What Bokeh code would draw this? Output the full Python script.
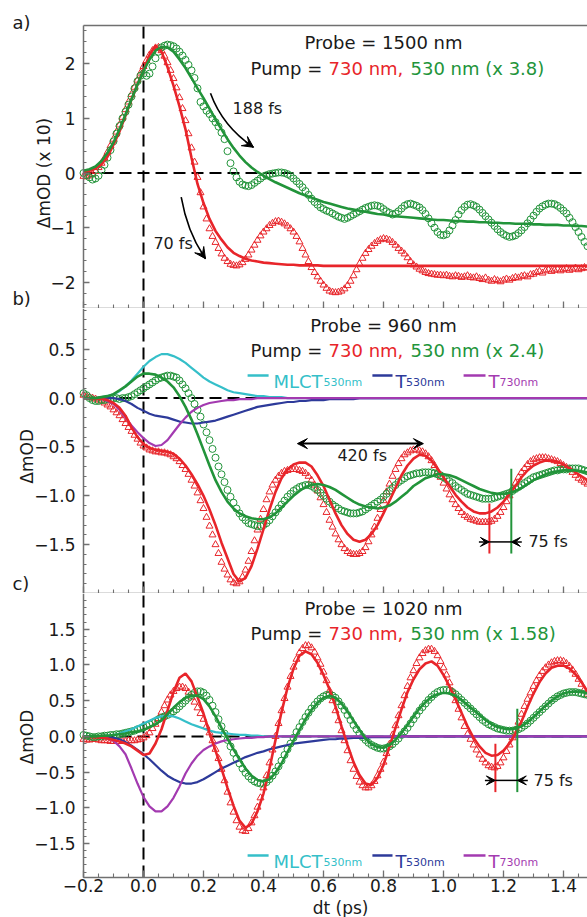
import math
from bokeh.plotting import figure
from bokeh.layouts import column
from bokeh.models import Range1d, FixedTicker, CustomJSTickFormatter, Label, Arrow, VeeHead
from bokeh.embed import file_html
from bokeh.resources import INLINE

# ---------------- data ----------------
T_DATA = [round(-0.2 + 0.01 * i, 2) for i in range(169)]
T_FIT = [round(-0.2 + 0.02 * i, 2) for i in range(85)]

# Panel a (probe 1500 nm)
RED_FIT_A = [0.02, 0.04, 0.08, 0.16, 0.30, 0.52, 0.76, 1.05, 1.35, 1.62,
             1.88, 2.16, 2.33, 2.22, 1.94, 1.60, 1.22, 0.80, 0.28, -0.20,
             -0.55, -0.84, -1.06, -1.22, -1.36, -1.46, -1.52, -1.57, -1.60, -1.62,
             -1.64, -1.65, -1.66, -1.67, -1.68, -1.68, -1.69, -1.69, -1.69, -1.69,
             -1.70, -1.70, -1.70, -1.70, -1.70, -1.70, -1.70, -1.70, -1.70, -1.70,
             -1.70, -1.70, -1.70, -1.70, -1.70, -1.70, -1.70, -1.70, -1.70, -1.70,
             -1.70, -1.70, -1.70, -1.70, -1.70, -1.70, -1.70, -1.70, -1.70, -1.70,
             -1.70, -1.70, -1.70, -1.70, -1.70, -1.70, -1.70, -1.70, -1.70, -1.70,
             -1.70, -1.70, -1.70, -1.70, -1.70]
GREEN_FIT_A = [0.04, 0.07, 0.12, 0.22, 0.37, 0.56, 0.80, 1.07, 1.35, 1.62,
               1.87, 2.08, 2.24, 2.31, 2.30, 2.22, 2.08, 1.92, 1.74, 1.55,
               1.37, 1.18, 0.98, 0.80, 0.62, 0.46, 0.32, 0.20, 0.10, 0.02,
               -0.05, -0.11, -0.17, -0.22, -0.27, -0.32, -0.37, -0.41, -0.45, -0.49,
               -0.53, -0.56, -0.59, -0.62, -0.65, -0.67, -0.69, -0.71, -0.73, -0.75,
               -0.76, -0.78, -0.79, -0.80, -0.81, -0.82, -0.83, -0.84, -0.85, -0.86,
               -0.86, -0.87, -0.88, -0.88, -0.89, -0.89, -0.90, -0.90, -0.91, -0.91,
               -0.92, -0.92, -0.93, -0.93, -0.93, -0.94, -0.94, -0.95, -0.95, -0.95,
               -0.96, -0.96, -0.97, -0.97, -0.98]
GREEN_DAT_A = [0.00, -0.04, -0.08, -0.12, -0.10, -0.05, 0.05, 0.15, 0.28, 0.42,
               0.58, 0.72, 0.86, 1.00, 1.12, 1.25, 1.40, 1.55, 1.68, 1.78,
               1.82, 1.78, 1.82, 1.95, 2.10, 2.22, 2.30, 2.33, 2.35, 2.34,
               2.32, 2.28, 2.22, 2.15, 2.07, 1.98, 1.88, 1.74, 1.55, 1.30,
               1.22, 1.14, 1.08, 1.00, 0.93, 0.85, 0.74, 0.62, 0.40, 0.18,
               0.03, -0.08, -0.16, -0.21, -0.23, -0.24, -0.22, -0.18, -0.14, -0.10,
               -0.06, -0.04, -0.02, -0.01, 0.00, 0.01, 0.01, 0.00, -0.02, -0.05,
               -0.10, -0.15, -0.20, -0.26, -0.33, -0.40, -0.47, -0.53, -0.58, -0.63,
               -0.66, -0.69, -0.71, -0.74, -0.77, -0.80, -0.82, -0.84, -0.82, -0.79,
               -0.76, -0.73, -0.70, -0.67, -0.64, -0.62, -0.60, -0.59, -0.60, -0.62,
               -0.66, -0.70, -0.73, -0.76, -0.74, -0.70, -0.65, -0.60, -0.57, -0.56,
               -0.58, -0.60, -0.63, -0.68, -0.75, -0.83, -0.92, -1.00, -1.08, -1.13,
               -1.14, -1.12, -1.05, -0.96, -0.86, -0.76, -0.68, -0.62, -0.58, -0.57,
               -0.59, -0.62, -0.67, -0.73, -0.79, -0.85, -0.91, -0.97, -1.03, -1.08,
               -1.12, -1.15, -1.17, -1.16, -1.14, -1.10, -1.05, -0.99, -0.92, -0.85,
               -0.78, -0.71, -0.65, -0.61, -0.58, -0.56, -0.56, -0.57, -0.60, -0.64,
               -0.69, -0.74, -0.82, -0.90, -0.99, -1.08, -1.17, -1.26, -1.34]
RED_DAT_A = [-0.06, -0.07, -0.05, -0.02, 0.03, 0.10, 0.18, 0.27, 0.38, 0.50,
             0.62, 0.75, 0.88, 1.02, 1.16, 1.30, 1.44, 1.57, 1.70, 1.83,
             1.95, 2.06, 2.16, 2.24, 2.29, 2.30, 2.24, 2.14, 2.02, 1.88,
             1.73, 1.56, 1.38, 1.18, 0.96, 0.72, 0.46, 0.20, -0.08, -0.36,
             -0.62, -0.84, -1.02, -1.16, -1.27, -1.38, -1.48, -1.56, -1.62, -1.67,
             -1.69, -1.70, -1.68, -1.64, -1.58, -1.50, -1.41, -1.32, -1.23, -1.15,
             -1.08, -1.02, -0.96, -0.92, -0.89, -0.88, -0.90, -0.93, -0.97, -1.02,
             -1.08, -1.16, -1.26, -1.38, -1.50, -1.62, -1.73, -1.82, -1.90, -1.98,
             -2.05, -2.11, -2.16, -2.18, -2.19, -2.18, -2.16, -2.12, -2.06, -1.98,
             -1.88, -1.77, -1.66, -1.56, -1.47, -1.40, -1.34, -1.29, -1.25, -1.22,
             -1.20, -1.21, -1.23, -1.27, -1.32, -1.38, -1.43, -1.48, -1.55, -1.62,
             -1.68, -1.72, -1.76, -1.79, -1.82, -1.84, -1.85, -1.86, -1.87, -1.87,
             -1.88, -1.87, -1.89, -1.90, -1.88, -1.89, -1.91, -1.90, -1.88, -1.91,
             -1.92, -1.90, -1.93, -1.95, -1.92, -1.96, -1.98, -1.95, -1.97, -1.99,
             -1.96, -1.94, -1.96, -1.93, -1.91, -1.92, -1.89, -1.88, -1.90, -1.86,
             -1.85, -1.82, -1.80, -1.83, -1.79, -1.77, -1.80, -1.78, -1.76, -1.79,
             -1.77, -1.75, -1.78, -1.76, -1.74, -1.77, -1.75, -1.73, -1.74]

# Panel b (probe 960 nm)
RED_FIT_B = [0.00, 0.00, -0.01, -0.01, -0.02, -0.05, -0.10, -0.18, -0.30, -0.40,
             -0.47, -0.51, -0.53, -0.54, -0.55, -0.57, -0.62, -0.69, -0.78, -0.88,
             -1.00, -1.14, -1.30, -1.48, -1.64, -1.80, -1.88, -1.84, -1.72, -1.54,
             -1.34, -1.14, -0.96, -0.82, -0.73, -0.68, -0.66, -0.66, -0.70, -0.79,
             -0.90, -1.04, -1.18, -1.30, -1.39, -1.45, -1.47, -1.45, -1.39, -1.30,
             -1.18, -1.05, -0.92, -0.79, -0.69, -0.62, -0.58, -0.59, -0.64, -0.72,
             -0.81, -0.90, -0.99, -1.06, -1.12, -1.16, -1.18, -1.18, -1.16, -1.12,
             -1.06, -0.98, -0.90, -0.81, -0.74, -0.69, -0.66, -0.64, -0.64, -0.65,
             -0.68, -0.72, -0.76, -0.80, -0.84]
RED_DAT_B = [0.03, 0.02, 0.01, 0.00, -0.01, -0.02, -0.03, -0.05, -0.07, -0.09,
             -0.12, -0.15, -0.18, -0.22, -0.26, -0.30, -0.34, -0.38, -0.42, -0.46,
             -0.49, -0.51, -0.53, -0.54, -0.55, -0.55, -0.56, -0.56, -0.57, -0.58,
             -0.60, -0.62, -0.65, -0.69, -0.73, -0.78, -0.84, -0.90, -0.97, -1.05,
             -1.13, -1.22, -1.31, -1.40, -1.50, -1.59, -1.68, -1.75, -1.81, -1.86,
             -1.89, -1.90, -1.88, -1.83, -1.76, -1.67, -1.57, -1.46, -1.35, -1.24,
             -1.14, -1.04, -0.96, -0.89, -0.84, -0.80, -0.77, -0.75, -0.74, -0.73,
             -0.73, -0.73, -0.74, -0.75, -0.77, -0.80, -0.84, -0.89, -0.95, -1.02,
             -1.09, -1.17, -1.25, -1.32, -1.39, -1.45, -1.50, -1.54, -1.57, -1.59,
             -1.60, -1.60, -1.59, -1.57, -1.53, -1.47, -1.40, -1.32, -1.23, -1.14,
             -1.05, -0.96, -0.88, -0.80, -0.73, -0.67, -0.62, -0.58, -0.56, -0.54,
             -0.53, -0.53, -0.54, -0.55, -0.57, -0.60, -0.64, -0.69, -0.75, -0.81,
             -0.87, -0.93, -0.99, -1.04, -1.09, -1.13, -1.17, -1.20, -1.22, -1.24,
             -1.25, -1.26, -1.27, -1.27, -1.27, -1.27, -1.26, -1.24, -1.21, -1.17,
             -1.12, -1.06, -1.00, -0.93, -0.87, -0.81, -0.76, -0.72, -0.68, -0.65,
             -0.63, -0.62, -0.61, -0.61, -0.61, -0.62, -0.63, -0.64, -0.65, -0.67,
             -0.69, -0.71, -0.73, -0.76, -0.79, -0.82, -0.84, -0.86, -0.88]
GREEN_FIT_B = [0.00, 0.00, 0.00, 0.01, 0.02, 0.04, 0.08, 0.12, 0.17, 0.22,
               0.25, 0.25, 0.24, 0.21, 0.17, 0.11, 0.02, -0.09, -0.22, -0.37,
               -0.53, -0.69, -0.84, -0.96, -1.06, -1.13, -1.18, -1.21, -1.23, -1.24,
               -1.24, -1.22, -1.18, -1.12, -1.06, -1.00, -0.95, -0.91, -0.89, -0.88,
               -0.89, -0.91, -0.94, -0.98, -1.02, -1.06, -1.09, -1.11, -1.12, -1.13,
               -1.12, -1.10, -1.06, -1.01, -0.96, -0.90, -0.86, -0.82, -0.80, -0.78,
               -0.78, -0.79, -0.81, -0.84, -0.87, -0.90, -0.93, -0.95, -0.97, -0.98,
               -0.98, -0.97, -0.95, -0.92, -0.88, -0.84, -0.81, -0.78, -0.76, -0.75,
               -0.74, -0.74, -0.74, -0.75, -0.76]
GREEN_DAT_B = [0.05, 0.03, 0.00, -0.02, -0.03, -0.03, -0.02, -0.02, -0.01, -0.01,
               0.00, 0.00, -0.01, 0.00, 0.00, 0.01, 0.02, 0.04, 0.06, 0.08,
               0.10, 0.12, 0.14, 0.16, 0.18, 0.20, 0.21, 0.22, 0.23, 0.23,
               0.22, 0.21, 0.18, 0.14, 0.10, 0.05, 0.00, -0.06, -0.12, -0.19,
               -0.27, -0.35, -0.43, -0.52, -0.61, -0.70, -0.78, -0.86, -0.94, -1.01,
               -1.07, -1.13, -1.18, -1.22, -1.25, -1.28, -1.29, -1.30, -1.31, -1.31,
               -1.30, -1.28, -1.25, -1.21, -1.17, -1.13, -1.09, -1.05, -1.01, -0.98,
               -0.95, -0.93, -0.91, -0.90, -0.89, -0.89, -0.90, -0.92, -0.94, -0.97,
               -1.00, -1.03, -1.06, -1.09, -1.11, -1.13, -1.15, -1.16, -1.17, -1.18,
               -1.18, -1.18, -1.17, -1.16, -1.14, -1.12, -1.10, -1.08, -1.06, -1.04,
               -1.01, -0.98, -0.95, -0.92, -0.89, -0.86, -0.84, -0.82, -0.80, -0.79,
               -0.78, -0.77, -0.77, -0.76, -0.76, -0.76, -0.76, -0.77, -0.78, -0.79,
               -0.81, -0.83, -0.85, -0.87, -0.90, -0.92, -0.94, -0.96, -0.98, -0.99,
               -1.00, -1.01, -1.02, -1.03, -1.03, -1.03, -1.03, -1.02, -1.01, -1.00,
               -0.99, -0.98, -0.97, -0.95, -0.93, -0.91, -0.89, -0.87, -0.85, -0.83,
               -0.81, -0.80, -0.79, -0.78, -0.77, -0.76, -0.75, -0.74, -0.74, -0.73,
               -0.73, -0.73, -0.72, -0.72, -0.72, -0.72, -0.73, -0.74, -0.75]
MLCT_530_B = [0.00, 0.00, 0.00, 0.01, 0.02, 0.04, 0.07, 0.12, 0.18, 0.25,
              0.32, 0.38, 0.42, 0.45, 0.45, 0.43, 0.40, 0.36, 0.31, 0.26,
              0.21, 0.17, 0.14, 0.11, 0.08, 0.06, 0.05, 0.04, 0.03, 0.02,
              0.02, 0.01, 0.01, 0.01, 0.00, 0.00, 0.00, 0.00, 0.00, 0.00,
              0.00, 0.00, 0.00, 0.00, 0.00, 0.00, 0.00, 0.00, 0.00, 0.00,
              0.00, 0.00, 0.00, 0.00, 0.00, 0.00, 0.00, 0.00, 0.00, 0.00,
              0.00, 0.00, 0.00, 0.00, 0.00, 0.00, 0.00, 0.00, 0.00, 0.00,
              0.00, 0.00, 0.00, 0.00, 0.00, 0.00, 0.00, 0.00, 0.00, 0.00,
              0.00, 0.00, 0.00, 0.00, 0.00]
T_530_B = [0.00, 0.00, 0.00, 0.00, 0.00, 0.00, -0.01, -0.03, -0.06, -0.10,
           -0.13, -0.16, -0.18, -0.19, -0.20, -0.22, -0.24, -0.25, -0.26, -0.26,
           -0.25, -0.24, -0.23, -0.21, -0.19, -0.17, -0.15, -0.13, -0.11, -0.09,
           -0.08, -0.07, -0.06, -0.05, -0.04, -0.04, -0.03, -0.03, -0.02, -0.02,
           -0.02, -0.01, -0.01, -0.01, -0.01, -0.01, 0.00, 0.00, 0.00, 0.00,
           0.00, 0.00, 0.00, 0.00, 0.00, 0.00, 0.00, 0.00, 0.00, 0.00,
           0.00, 0.00, 0.00, 0.00, 0.00, 0.00, 0.00, 0.00, 0.00, 0.00,
           0.00, 0.00, 0.00, 0.00, 0.00, 0.00, 0.00, 0.00, 0.00, 0.00,
           0.00, 0.00, 0.00, 0.00, 0.00]
T_730_B = [0.00, 0.00, 0.00, -0.01, -0.03, -0.06, -0.12, -0.20, -0.28, -0.35,
           -0.41, -0.46, -0.49, -0.48, -0.43, -0.35, -0.27, -0.20, -0.14, -0.10,
           -0.07, -0.05, -0.04, -0.03, -0.02, -0.02, -0.01, -0.01, -0.01, 0.00,
           0.00, 0.00, 0.00, 0.00, 0.00, 0.00, 0.00, 0.00, 0.00, 0.00,
           0.00, 0.00, 0.00, 0.00, 0.00, 0.00, 0.00, 0.00, 0.00, 0.00,
           0.00, 0.00, 0.00, 0.00, 0.00, 0.00, 0.00, 0.00, 0.00, 0.00,
           0.00, 0.00, 0.00, 0.00, 0.00, 0.00, 0.00, 0.00, 0.00, 0.00,
           0.00, 0.00, 0.00, 0.00, 0.00, 0.00, 0.00, 0.00, 0.00, 0.00,
           0.00, 0.00, 0.00, 0.00, 0.00]

# Panel c (probe 1020 nm)
RED_FIT_C = [0.00, 0.00, -0.01, -0.02, -0.03, -0.05, -0.07, -0.10, -0.14, -0.20,
             -0.26, -0.24, -0.10, 0.10, 0.36, 0.62, 0.82, 0.88, 0.77, 0.55,
             0.32, 0.05, -0.20, -0.45, -0.72, -0.97, -1.18, -1.28, -1.22, -1.05,
             -0.80, -0.45, -0.05, 0.34, 0.68, 0.95, 1.13, 1.19, 1.15, 1.03,
             0.86, 0.66, 0.42, 0.14, -0.12, -0.36, -0.54, -0.66, -0.68, -0.58,
             -0.40, -0.14, 0.12, 0.38, 0.62, 0.80, 0.94, 1.02, 1.05, 0.99,
             0.86, 0.70, 0.52, 0.33, 0.14, -0.02, -0.14, -0.23, -0.27, -0.26,
             -0.20, -0.10, 0.04, 0.21, 0.41, 0.60, 0.76, 0.88, 0.96, 0.99,
             0.99, 0.95, 0.87, 0.76, 0.62]
RED_DAT_C = [-0.04, -0.05, -0.05, -0.04, -0.04, -0.05, -0.06, -0.06, -0.06, -0.07,
             -0.07, -0.07, -0.07, -0.07, -0.07, -0.06, -0.06, -0.06, -0.05, -0.04,
             -0.02, 0.01, 0.05, 0.11, 0.17, 0.25, 0.34, 0.43, 0.51, 0.58,
             0.63, 0.67, 0.69, 0.69, 0.67, 0.62, 0.55, 0.48, 0.40, 0.32,
             0.24, 0.14, 0.05, -0.06, -0.18, -0.31, -0.46, -0.62, -0.78, -0.93,
             -1.06, -1.18, -1.27, -1.32, -1.33, -1.29, -1.21, -1.11, -0.99, -0.86,
             -0.72, -0.55, -0.37, -0.19, 0.00, 0.18, 0.36, 0.53, 0.69, 0.84,
             0.97, 1.08, 1.17, 1.23, 1.27, 1.27, 1.24, 1.18, 1.10, 1.01,
             0.90, 0.78, 0.64, 0.50, 0.36, 0.22, 0.08, -0.06, -0.20, -0.34,
             -0.46, -0.56, -0.64, -0.69, -0.72, -0.72, -0.69, -0.63, -0.55, -0.46,
             -0.36, -0.24, -0.11, 0.02, 0.15, 0.29, 0.43, 0.57, 0.70, 0.82,
             0.92, 1.02, 1.10, 1.16, 1.20, 1.22, 1.22, 1.19, 1.13, 1.05,
             0.96, 0.86, 0.75, 0.63, 0.50, 0.38, 0.26, 0.14, 0.03, -0.04,
             -0.12, -0.19, -0.26, -0.32, -0.37, -0.41, -0.43, -0.44, -0.42, -0.37,
             -0.30, -0.21, -0.12, -0.02, 0.09, 0.20, 0.31, 0.42, 0.52, 0.61,
             0.70, 0.78, 0.85, 0.91, 0.96, 1.00, 1.03, 1.05, 1.06, 1.06,
             1.05, 1.02, 0.98, 0.93, 0.87, 0.80, 0.73, 0.66, 0.59]
GREEN_FIT_C = [0.00, 0.00, 0.00, 0.01, 0.01, 0.02, 0.03, 0.04, 0.06, 0.07,
               0.09, 0.13, 0.17, 0.23, 0.31, 0.40, 0.48, 0.54, 0.57, 0.57,
               0.52, 0.42, 0.28, 0.12, -0.03, -0.18, -0.32, -0.45, -0.55, -0.61,
               -0.63, -0.60, -0.51, -0.38, -0.22, -0.06, 0.09, 0.24, 0.37, 0.47,
               0.54, 0.57, 0.54, 0.46, 0.35, 0.22, 0.09, -0.03, -0.11, -0.15,
               -0.16, -0.12, -0.05, 0.05, 0.16, 0.28, 0.39, 0.48, 0.55, 0.59,
               0.61, 0.60, 0.57, 0.51, 0.44, 0.37, 0.30, 0.23, 0.17, 0.13,
               0.11, 0.10, 0.11, 0.14, 0.20, 0.27, 0.35, 0.43, 0.50, 0.56,
               0.60, 0.62, 0.63, 0.62, 0.60]
GREEN_DAT_C = [0.02, 0.01, 0.00, -0.01, -0.01, 0.00, 0.00, 0.01, 0.01, 0.02,
               0.02, 0.03, 0.03, 0.04, 0.05, 0.06, 0.07, 0.08, 0.10, 0.11,
               0.13, 0.15, 0.17, 0.19, 0.21, 0.24, 0.26, 0.28, 0.30, 0.32,
               0.35, 0.38, 0.42, 0.46, 0.50, 0.54, 0.58, 0.61, 0.63, 0.63,
               0.61, 0.57, 0.51, 0.43, 0.34, 0.24, 0.14, 0.04, -0.05, -0.14,
               -0.23, -0.31, -0.38, -0.45, -0.51, -0.56, -0.60, -0.63, -0.65, -0.66,
               -0.66, -0.64, -0.60, -0.55, -0.49, -0.42, -0.34, -0.26, -0.18, -0.10,
               -0.02, 0.06, 0.13, 0.20, 0.27, 0.33, 0.39, 0.44, 0.49, 0.53,
               0.56, 0.58, 0.58, 0.57, 0.54, 0.49, 0.43, 0.37, 0.30, 0.23,
               0.16, 0.10, 0.04, -0.01, -0.05, -0.09, -0.12, -0.14, -0.16, -0.17,
               -0.17, -0.16, -0.14, -0.11, -0.07, -0.03, 0.02, 0.07, 0.12, 0.18,
               0.24, 0.30, 0.36, 0.41, 0.46, 0.51, 0.55, 0.59, 0.62, 0.64,
               0.65, 0.65, 0.64, 0.62, 0.59, 0.55, 0.51, 0.47, 0.43, 0.39,
               0.35, 0.31, 0.27, 0.23, 0.20, 0.17, 0.15, 0.13, 0.11, 0.10,
               0.09, 0.08, 0.08, 0.08, 0.09, 0.10, 0.12, 0.15, 0.18, 0.22,
               0.26, 0.30, 0.34, 0.38, 0.42, 0.46, 0.50, 0.53, 0.56, 0.58,
               0.60, 0.61, 0.62, 0.62, 0.62, 0.61, 0.60, 0.59, 0.58]
MLCT_530_C = [0.00, 0.00, 0.00, 0.00, 0.01, 0.02, 0.04, 0.07, 0.10, 0.14,
              0.18, 0.22, 0.26, 0.28, 0.29, 0.28, 0.25, 0.21, 0.17, 0.14,
              0.11, 0.08, 0.06, 0.05, 0.04, 0.03, 0.02, 0.02, 0.01, 0.01,
              0.00, 0.00, 0.00, 0.00, 0.00, 0.00, 0.00, 0.00, 0.00, 0.00,
              0.00, 0.00, 0.00, 0.00, 0.00, 0.00, 0.00, 0.00, 0.00, 0.00,
              0.00, 0.00, 0.00, 0.00, 0.00, 0.00, 0.00, 0.00, 0.00, 0.00,
              0.00, 0.00, 0.00, 0.00, 0.00, 0.00, 0.00, 0.00, 0.00, 0.00,
              0.00, 0.00, 0.00, 0.00, 0.00, 0.00, 0.00, 0.00, 0.00, 0.00,
              0.00, 0.00, 0.00, 0.00, 0.00]
T_530_C = [0.00, 0.00, 0.00, 0.00, -0.01, -0.02, -0.04, -0.08, -0.13, -0.19,
           -0.25, -0.32, -0.40, -0.48, -0.55, -0.60, -0.64, -0.66, -0.66, -0.64,
           -0.60, -0.55, -0.50, -0.45, -0.41, -0.37, -0.33, -0.29, -0.26, -0.23,
           -0.21, -0.18, -0.16, -0.14, -0.12, -0.10, -0.09, -0.08, -0.07, -0.06,
           -0.05, -0.04, -0.04, -0.03, -0.03, -0.02, -0.02, -0.02, -0.01, -0.01,
           -0.01, -0.01, 0.00, 0.00, 0.00, 0.00, 0.00, 0.00, 0.00, 0.00,
           0.00, 0.00, 0.00, 0.00, 0.00, 0.00, 0.00, 0.00, 0.00, 0.00,
           0.00, 0.00, 0.00, 0.00, 0.00, 0.00, 0.00, 0.00, 0.00, 0.00,
           0.00, 0.00, 0.00, 0.00, 0.00]
T_730_C = [0.00, 0.00, 0.00, -0.01, -0.03, -0.06, -0.14, -0.25, -0.45, -0.66,
           -0.85, -0.98, -1.05, -1.05, -0.98, -0.86, -0.70, -0.52, -0.38, -0.27,
           -0.19, -0.14, -0.10, -0.07, -0.05, -0.04, -0.03, -0.02, -0.02, -0.01,
           -0.01, 0.00, 0.00, 0.00, 0.00, 0.00, 0.00, 0.00, 0.00, 0.00,
           0.00, 0.00, 0.00, 0.00, 0.00, 0.00, 0.00, 0.00, 0.00, 0.00,
           0.00, 0.00, 0.00, 0.00, 0.00, 0.00, 0.00, 0.00, 0.00, 0.00,
           0.00, 0.00, 0.00, 0.00, 0.00, 0.00, 0.00, 0.00, 0.00, 0.00,
           0.00, 0.00, 0.00, 0.00, 0.00, 0.00, 0.00, 0.00, 0.00, 0.00,
           0.00, 0.00, 0.00, 0.00, 0.00]

X_TICKS = [-0.2, 0.0, 0.2, 0.4, 0.6, 0.8, 1.0, 1.2, 1.4]
X_TICK_LABELS = ["\u22120.2", "0.0", "0.2", "0.4", "0.6", "0.8", "1.0", "1.2", "1.4"]
Y_TICKS_A = [-2, -1, 0, 1, 2]
Y_TICK_LABELS_A = ["\u22122", "\u22121", "0", "1", "2"]
Y_TICKS_B = [-1.5, -1.0, -0.5, 0.0, 0.5]
Y_TICK_LABELS_B = ["\u22121.5", "\u22121.0", "\u22120.5", "0.0", "0.5"]
Y_TICKS_C = [-1.5, -1.0, -0.5, 0.0, 0.5, 1.0, 1.5]
Y_TICK_LABELS_C = ["\u22121.5", "\u22121.0", "\u22120.5", "0.0", "0.5", "1.0", "1.5"]

# ---------------- style ----------------
FONT = "DejaVu Sans"
RED = "#e8252a"
GREEN = "#22943a"
CYAN = "#35bfc9"
BLUE = "#2d3a9a"
PURPLE = "#a33ab0"
GRAY = "#707070"
LEFT_PX = 83
XL, X0, X1 = -0.2 - LEFT_PX / 300.0, -0.2, 1.48


def tick_fmt(tvals, tlabels):
    return CustomJSTickFormatter(args=dict(tv=tvals, tl=tlabels), code="""
        let best = 0, bd = Infinity;
        for (let i = 0; i < tv.length; i++) {
            const d = Math.abs(tv[i] - tick);
            if (d < bd) { bd = d; best = i; }
        }
        return bd < 1e-6 ? tl[best] : "";
    """)


def make_panel(height, y0, y1, ybot, ytop, yt, yl, yminor, ylabel, ylabel_pos, show_x):
    p = figure(width=587, height=height,
               x_range=Range1d(XL, X1), y_range=Range1d(y0, y1),
               output_backend="svg", toolbar_location=None,
               min_border_left=0, min_border_right=0,
               min_border_top=0, min_border_bottom=0)
    p.outline_line_color = None
    p.xgrid.visible = False
    p.ygrid.visible = False
    xminor = [round(-0.2 + 0.05 * i, 2) for i in range(34)]
    p.xaxis.ticker = FixedTicker(ticks=X_TICKS, minor_ticks=xminor)
    p.xaxis.formatter = tick_fmt(X_TICKS, X_TICK_LABELS)
    p.xaxis.bounds = (X0, X1)
    p.yaxis.ticker = FixedTicker(ticks=yt, minor_ticks=yminor)
    p.yaxis.formatter = tick_fmt(yt, yl)
    p.yaxis.fixed_location = X0
    p.yaxis.bounds = (ybot, ytop)
    for ax in (p.xaxis[0], p.yaxis[0]):
        ax.axis_line_color = GRAY
        ax.axis_line_width = 1.5
        ax.major_tick_line_color = GRAY
        ax.minor_tick_line_color = GRAY
        ax.major_tick_line_width = 1.3
        ax.minor_tick_line_width = 1.1
        ax.major_tick_out = 0
        ax.minor_tick_out = 0
        ax.major_label_text_font = FONT
        ax.major_label_text_font_size = "17px"
        ax.major_label_text_color = "#1a1a1a"
    p.yaxis.major_tick_in = 6
    p.yaxis.minor_tick_in = 3
    p.yaxis.major_label_standoff = 8
    p.xaxis.major_tick_in = 7
    p.xaxis.minor_tick_in = 4
    # y axis title, placed by hand in the left margin
    p.add_layout(Label(x=ylabel_pos[0], y=ylabel_pos[1], text=ylabel, angle=math.pi / 2,
                       text_font=FONT, text_font_size="17px", text_color="#1a1a1a",
                       text_align="center", text_baseline="middle"))
    if show_x:
        p.xaxis.fixed_location = ybot
        p.xaxis.major_label_standoff = 2
        p.add_layout(Label(x=0.657, y=ybot, y_offset=-31, text="dt (ps)",
                           text_font=FONT, text_font_size="17px", text_color="#1a1a1a",
                           text_align="center", text_baseline="middle"))
    else:
        p.xaxis.major_label_text_font_size = "0px"
        p.xaxis.major_label_text_color = None
        p.xaxis.major_label_text_alpha = 0
        p.xaxis.major_label_standoff = 0
    # zero lines
    p.line([X0, X1], [0, 0], line_color="black", line_width=2, line_dash="12 6")
    p.line([0, 0], [ybot, ytop], line_color="black", line_width=2, line_dash="12 6")
    return p


def n(xs, ys):
    m = min(len(xs), len(ys))
    return xs[:m], ys[:m]


def add_series(p, red_dat, green_dat, red_fit, green_fit, comps=None):
    p.scatter(*n(T_DATA, red_dat), marker="triangle", size=7, fill_color=None,
              line_color=RED, line_width=1)
    p.scatter(*n(T_DATA, green_dat), marker="circle", size=7, fill_color=None,
              line_color=GREEN, line_width=1)
    if comps:
        for ys, col in comps:
            p.line(*n(T_FIT, ys), line_color=col, line_width=2.2)
    p.line(*n(T_FIT, red_fit), line_color=RED, line_width=2.6)
    p.line(*n(T_FIT, green_fit), line_color=GREEN, line_width=2.6)


def txt(p, x, y, s, color="#1a1a1a", size="18px", align="left", baseline="middle",
        y_offset=0):
    p.add_layout(Label(x=x, y=y, text=s, text_color=color, text_font=FONT,
                       text_font_size=size, text_align=align,
                       text_baseline=baseline, y_offset=y_offset))


def titles(p, probe, y_probe, y_pump, factor):
    txt(p, 0.80, y_probe, probe, align="center")
    txt(p, 0.357, y_pump, "Pump = ")
    txt(p, 0.617, y_pump, "730 nm,", color=RED)
    txt(p, 0.89, y_pump, "530 nm (x %s)" % factor, color=GREEN)


def legend_row(p, y_line, y_base, y_sub):
    entries = [(0.347, 0.417, 0.433, 0.600, "MLCT", CYAN),
               (0.763, 0.830, 0.840, 0.875, "T", BLUE),
               (1.067, 1.140, 1.150, 1.187, "T", PURPLE)]
    subs = ["530nm", "530nm", "730nm"]
    for (xa, xb, xt, xs, main, col), sub in zip(entries, subs):
        p.line([xa, xb], [y_line, y_line], line_color=col, line_width=2.5)
        txt(p, xt, y_base, main, color=col, size="18px", baseline="alphabetic")
        txt(p, xs, y_sub, sub, color=col, size="11px", baseline="alphabetic")


def shift_marker(p, xr, xg, y_r0, y_g0, y_bot, y_arrow, x_text):
    p.line([xr, xr], [y_r0, y_bot], line_color=RED, line_width=2)
    p.line([xg, xg], [y_g0, y_bot], line_color=GREEN, line_width=2)
    p.line([xr, xg], [y_arrow, y_arrow], line_color="black", line_width=1.5)
    p.add_layout(Arrow(end=VeeHead(size=9, fill_color="black", line_color="black"),
                       x_start=xr - 0.035, y_start=y_arrow, x_end=xr, y_end=y_arrow,
                       line_color="black", line_width=1.5))
    p.add_layout(Arrow(end=VeeHead(size=9, fill_color="black", line_color="black"),
                       x_start=xg + 0.035, y_start=y_arrow, x_end=xg, y_end=y_arrow,
                       line_color="black", line_width=1.5))
    txt(p, x_text, y_arrow, "75 fs", size="16px")


def curved_arrow(p, x0, y0, cx, cy, x1, y1):
    p.quadratic(x0=[x0], y0=[y0], cx=[cx], cy=[cy], x1=[x1], y1=[y1],
                line_color="black", line_width=1.6)
    p.add_layout(Arrow(end=VeeHead(size=11, fill_color="black", line_color="black"),
                       x_start=x1 - 0.25 * (x1 - cx), y_start=y1 - 0.25 * (y1 - cy),
                       x_end=x1, y_end=y1, line_color="black", line_width=1.6))


# ---------------- panel a ----------------
pa = make_panel(308, -2.48, 3.158, -2.48, 2.70, Y_TICKS_A, Y_TICK_LABELS_A,
                [round(-2.4 + 0.2 * i, 1) for i in range(26)], "\u0394mOD (x 10)",
                (-0.333, 0.0), False)
add_series(pa, RED_DAT_A, GREEN_DAT_A, RED_FIT_A, GREEN_FIT_A)
pa.line([X0, X1], [2.70, 2.70], line_color=GRAY, line_width=1.5)
titles(pa, "Probe = 1500 nm", 2.394, 1.918, "3.8")
curved_arrow(pa, 0.2233, 1.460, 0.2633, 0.855, 0.3667, 0.471)
txt(pa, 0.297, 1.185, "188 fs", size="16px")
curved_arrow(pa, 0.1257, -0.440, 0.1467, -1.095, 0.2067, -1.568)
txt(pa, 0.033, -1.29, "70 fs", size="16px")
txt(pa, -0.437, 2.70, "a)", size="18px", y_offset=3)
txt(pa, -0.437, -2.48, "b)", size="18px", y_offset=10)

# ---------------- panel b ----------------
pb = make_panel(285, -2.0, 0.917, -2.0, 0.917, Y_TICKS_B, Y_TICK_LABELS_B,
                [round(-2.0 + 0.1 * i, 1) for i in range(30)], "\u0394mOD",
                (-0.39, -0.596), False)
add_series(pb, RED_DAT_B, GREEN_DAT_B, RED_FIT_B, GREEN_FIT_B,
           comps=[(MLCT_530_B, CYAN), (T_530_B, BLUE), (T_730_B, PURPLE)])
titles(pb, "Probe = 960 nm", 0.743, 0.488, "2.4")
legend_row(pb, 0.232, 0.171, 0.158)
pb.add_layout(Arrow(start=VeeHead(size=10, fill_color="black", line_color="black"),
                    end=VeeHead(size=10, fill_color="black", line_color="black"),
                    x_start=0.513, y_start=-0.466, x_end=0.933, y_end=-0.466,
                    line_color="black", line_width=2))
txt(pb, 0.729, -0.587, "420 fs", size="16px", align="center")
shift_marker(pb, 1.153, 1.226, -1.080, -0.722, -1.591, -1.472, 1.283)
txt(pb, -0.437, -2.0, "c)", size="18px", y_offset=10)

# ---------------- panel c ----------------
pc = make_panel(324, -2.535, 2.0, -1.975, 2.0, Y_TICKS_C, Y_TICK_LABELS_C,
                [round(-1.9 + 0.1 * i, 1) for i in range(39)], "\u0394mOD",
                (-0.39, -0.01), True)
add_series(pc, RED_DAT_C, GREEN_DAT_C, RED_FIT_C, GREEN_FIT_C,
           comps=[(MLCT_530_C, CYAN), (T_530_C, BLUE), (T_730_C, PURPLE)])
titles(pc, "Probe = 1020 nm", 1.793, 1.443, "1.58")
legend_row(pc, -1.667, -1.751, -1.772)
shift_marker(pc, 1.173, 1.246, -0.102, 0.388, -0.780, -0.616, 1.30)

layout = column(pa, pb, pc, spacing=0)
open("out.html", "w").write(file_html(layout, INLINE))
